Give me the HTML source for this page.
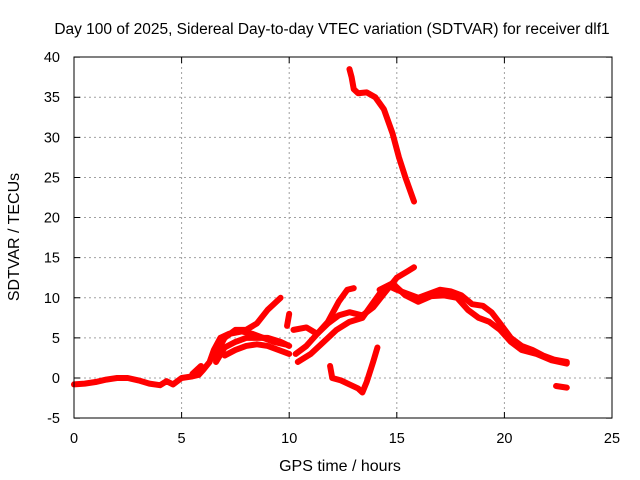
<!DOCTYPE html>
<html><head><meta charset="utf-8"><style>
body{margin:0;background:#fff}
svg{display:block;font-family:"Liberation Sans",sans-serif;font-size:14.5px}
</style></head><body>
<svg id="c" width="640" height="480">
<rect x="0" y="0" width="640" height="480" fill="#fff"/>
<text x="332" y="34" text-anchor="middle" font-size="15.5">Day 100 of 2025, Sidereal Day-to-day VTEC variation (SDTVAR) for receiver dlf1</text>
<text x="340" y="471" text-anchor="middle" font-size="16">GPS time / hours</text>
<text transform="translate(19,237) rotate(-90)" text-anchor="middle" font-size="16">SDTVAR / TECUs</text>
<g id="grid"></g><g id="series"></g>
<rect x="74" y="57" width="538" height="361" fill="none" stroke="#000"/>
</svg>
<script>
const xTicks=[0,5,10,15,20,25];
const yTicks=[-5,0,5,10,15,20,25,30,35,40];
const traceHigh=[[12.8,38.5],[12.9,37.5],[13,36],[13.2,35.5],[13.6,35.6],[14,35],[14.4,33.5],[14.8,30.5],[15.1,27.5],[15.4,25],[15.8,22]];
const traceBase=[[0,-0.8],[0.5,-0.7],[1,-0.5],[1.5,-0.2],[2,0],[2.5,0],[3,-0.3],[3.5,-0.7],[4,-0.9],[4.3,-0.4],[4.6,-0.8],[5,0],[5.5,0.2],[5.8,0.4],[6,1],[6.3,2],[6.5,3.5],[6.8,5],[7.2,5.5],[7.8,5.8],[8.3,5.5],[8.8,5],[9.3,4.5],[9.8,4.2]];
const traceA=[[5.5,0.5],[5.9,1.5]];
const traceB=[[6.5,2.5],[7,5],[7.5,6],[8,6],[8.5,6.8],[9,8.5],[9.6,10]];
const traceC=[[6.6,2],[7,3.8],[7.5,4.5],[8,5],[8.5,5],[9,5],[9.6,4.5],[10,4]];
const traceD=[[7,2.8],[7.5,3.5],[8,4],[8.5,4.2],[9,4],[9.5,3.5],[10,3]];
const traceE=[[9.9,6.5],[10,8]];
const traceF=[[10.3,3],[10.8,4],[11.3,5.5],[11.8,7],[12.3,9.5],[12.7,11],[13,11.2]];
const traceG=[[10.2,6],[10.8,6.3],[11.3,5.5],[11.8,6.8],[12.3,7.8],[12.8,8.2],[13.4,7.8],[13.9,8.8],[14.4,10.5],[15,12.5],[15.5,13.3],[15.8,13.8]];
const traceH=[[10.4,2],[11,3],[11.6,4.5],[12.2,6],[12.8,7],[13.4,7.5],[13.8,9],[14.2,10.5],[14.6,11.5],[15,11],[15.5,10.5],[16,10],[16.5,10.5],[17,11],[17.5,10.8],[18,10.3],[18.5,9.2],[19,9],[19.4,8.2],[19.8,6.8],[20.3,5],[20.8,4],[21.3,3.5],[21.8,2.8],[22.3,2.3],[22.9,2]];
const traceI=[[14.2,11],[14.8,11.8],[15.4,10.3],[16,9.5],[16.6,10.2],[17.2,10.3],[17.8,10],[18.3,8.5],[18.8,7.5],[19.3,7],[19.8,6],[20.3,4.5],[20.8,3.5],[21.5,3],[22.2,2.2],[22.9,1.8]];
const traceDip=[[11.9,1.5],[12,0],[12.4,-0.3],[12.8,-0.8],[13.2,-1.3],[13.4,-1.8],[13.6,-0.5],[13.9,2],[14.1,3.8]];
const traceEnd=[[22.4,-1],[22.9,-1.2]];
const allTraces=[traceHigh,traceBase,traceA,traceB,traceC,traceD,traceE,traceF,traceG,traceH,traceI,traceDip,traceEnd];
const X=v=>74+v*(538/25), Y=v=>378-v*(361/45);
const NS="http://www.w3.org/2000/svg";
const grid=document.getElementById('grid'), ser=document.getElementById('series');
xTicks.forEach(t=>{
 const x=X(t);
 if(t>0&&t<25){const l=document.createElementNS(NS,'line');
 
 
 l.setAttribute('x1',x);l.setAttribute('x2',x);l.setAttribute('y1',57);l.setAttribute('y2',418);
 l.setAttribute('stroke','#a0a0a0');l.setAttribute('stroke-dasharray','2,3');grid.appendChild(l);}
 const tk=document.createElementNS(NS,'path');
 
 
 tk.setAttribute('d',`M${x},418v-6M${x},57v6`);tk.setAttribute('stroke','#000');grid.appendChild(tk);
 const tx=document.createElementNS(NS,'text');
 
 
 tx.setAttribute('x',x);tx.setAttribute('y',443);tx.setAttribute('text-anchor','middle');tx.textContent=t;grid.appendChild(tx);
});
yTicks.forEach(t=>{
 const y=Y(t);
 if(t>-5&&t<40){const l=document.createElementNS(NS,'line');
 
 
 l.setAttribute('x1',74);l.setAttribute('x2',612);l.setAttribute('y1',y);l.setAttribute('y2',y);
 l.setAttribute('stroke','#a0a0a0');l.setAttribute('stroke-dasharray','2,3');grid.appendChild(l);}
 const tk=document.createElementNS(NS,'path');
 
 
 tk.setAttribute('d',`M74,${y}h6M612,${y}h-6`);tk.setAttribute('stroke','#000');grid.appendChild(tk);
 const tx=document.createElementNS(NS,'text');
 
 
 tx.setAttribute('x',60);tx.setAttribute('y',y+5);tx.setAttribute('text-anchor','end');tx.textContent=t;grid.appendChild(tx);
});
allTraces.forEach(tr=>{
 const p=document.createElementNS(NS,'polyline');
 
 
 p.setAttribute('points',tr.map(d=>X(d[0])+','+Y(d[1])).join(' '));
 p.setAttribute('fill','none');p.setAttribute('stroke','#f00');p.setAttribute('stroke-width','6');
 p.setAttribute('stroke-linejoin','round');p.setAttribute('stroke-linecap','round');
 ser.appendChild(p);
});
</script>
</body></html>
